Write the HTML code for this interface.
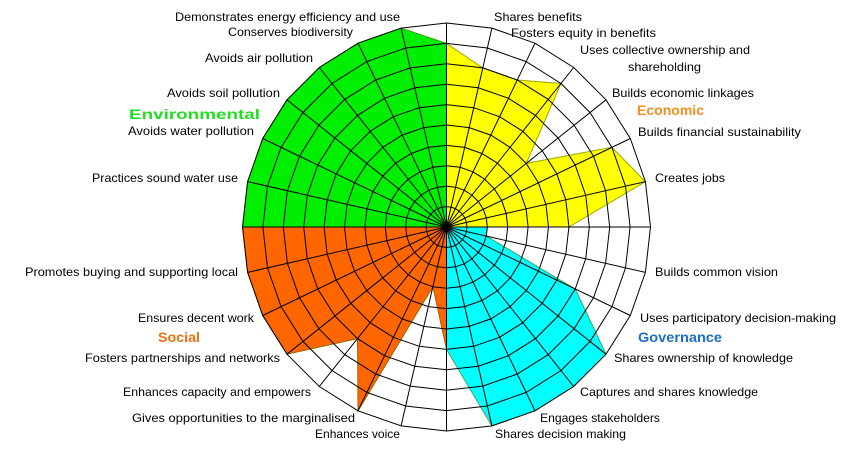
<!DOCTYPE html>
<html><head><meta charset="utf-8"><style>
html,body{margin:0;padding:0;background:#fff;}
svg{display:block;font-family:"Liberation Sans",sans-serif;}
</style></head><body>
<svg id="s" width="850" height="458" viewBox="0 0 850 458" xmlns="http://www.w3.org/2000/svg">
<g id="fills"></g><g id="grid" stroke="#000" stroke-width="1" fill="none"></g>
<g font-size="12" fill="#000">
<text x="400" y="21" text-anchor="end" textLength="225" lengthAdjust="spacingAndGlyphs">Demonstrates energy efficiency and use</text>
<text x="353" y="36" text-anchor="end" textLength="125" lengthAdjust="spacingAndGlyphs">Conserves biodiversity</text>
<text x="313" y="62" text-anchor="end" textLength="108" lengthAdjust="spacingAndGlyphs">Avoids air pollution</text>
<text x="280" y="97" text-anchor="end" textLength="113" lengthAdjust="spacingAndGlyphs">Avoids soil pollution</text>
<text x="254" y="135" text-anchor="end" textLength="126" lengthAdjust="spacingAndGlyphs">Avoids water pollution</text>
<text x="238" y="182" text-anchor="end" textLength="146" lengthAdjust="spacingAndGlyphs">Practices sound water use</text>
<text x="238" y="276" text-anchor="end" textLength="213" lengthAdjust="spacingAndGlyphs">Promotes buying and supporting local</text>
<text x="254" y="322" text-anchor="end" textLength="116" lengthAdjust="spacingAndGlyphs">Ensures decent work</text>
<text x="280" y="362" text-anchor="end" textLength="195" lengthAdjust="spacingAndGlyphs">Fosters partnerships and networks</text>
<text x="311" y="396" text-anchor="end" textLength="188" lengthAdjust="spacingAndGlyphs">Enhances capacity and empowers</text>
<text x="355" y="422" text-anchor="end" textLength="223" lengthAdjust="spacingAndGlyphs">Gives opportunities to the marginalised</text>
<text x="400" y="438" text-anchor="end" textLength="85" lengthAdjust="spacingAndGlyphs">Enhances voice</text>
<text x="494" y="21" textLength="88" lengthAdjust="spacingAndGlyphs">Shares benefits</text>
<text x="511" y="37" textLength="145" lengthAdjust="spacingAndGlyphs">Fosters equity in benefits</text>
<text x="580" y="54" textLength="170" lengthAdjust="spacingAndGlyphs">Uses collective ownership and</text>
<text x="628" y="71" textLength="73" lengthAdjust="spacingAndGlyphs">shareholding</text>
<text x="612" y="97" textLength="142" lengthAdjust="spacingAndGlyphs">Builds economic linkages</text>
<text x="638" y="136" textLength="163" lengthAdjust="spacingAndGlyphs">Builds financial sustainability</text>
<text x="655" y="182" textLength="70" lengthAdjust="spacingAndGlyphs">Creates jobs</text>
<text x="655" y="276" textLength="123" lengthAdjust="spacingAndGlyphs">Builds common vision</text>
<text x="640" y="322" textLength="196" lengthAdjust="spacingAndGlyphs">Uses participatory decision-making</text>
<text x="614" y="362" textLength="179" lengthAdjust="spacingAndGlyphs">Shares ownership of knowledge</text>
<text x="580" y="396" textLength="178" lengthAdjust="spacingAndGlyphs">Captures and shares knowledge</text>
<text x="540" y="422" textLength="120" lengthAdjust="spacingAndGlyphs">Engages stakeholders</text>
<text x="495" y="438" textLength="131" lengthAdjust="spacingAndGlyphs">Shares decision making</text>
</g>
<g font-size="14" font-weight="bold">
<text x="129" y="119" fill="#22dd22" textLength="131" lengthAdjust="spacingAndGlyphs">Environmental</text>
<text x="158" y="342" fill="#f07010" textLength="42" lengthAdjust="spacingAndGlyphs">Social</text>
<text x="637" y="115" fill="#f09020" textLength="67" lengthAdjust="spacingAndGlyphs">Economic</text>
<text x="638" y="342" fill="#1a6fc4" textLength="84" lengthAdjust="spacingAndGlyphs">Governance</text>
</g>
</svg>
<script>
var cx=446.5,cy=227,R=204,N=28,st=R/10,ns="http://www.w3.org/2000/svg";
function pt(k,v){var a=k*2*Math.PI/N,r=v*st;return (cx+r*Math.sin(a)).toFixed(1)+","+(cy-r*Math.cos(a)).toFixed(1);}
function poly(parent,pts,attrs){var p=document.createElementNS(ns,"polygon");p.setAttribute("points",pts.join(" "));for(var k in attrs)p.setAttribute(k,attrs[k]);parent.appendChild(p);}
var F=document.getElementById("fills"),G=document.getElementById("grid");
function series(list,fill,stroke){var pts=[cx+","+cy];list.forEach(function(e){pts.push(pt(e[0],e[1]));});poly(F,pts,{fill:fill,stroke:stroke,"stroke-width":1});}
series([[21,10],[22,10],[23,10],[24,10],[25,10],[26,10],[27,10],[28,9]],"#00ee00","#33aa00");
series([[0,9],[1,8],[2,8],[3,9],[4,5],[5,9],[6,10],[7,6]],"#ffff00","#99aa00");
series([[14,6],[15,3],[16,10],[17,7],[18,10],[19,10],[20,10],[21,10]],"#ff6600","#996600");
series([[7,2],[8,2],[9,7],[10,10],[11,10],[12,10],[13,10],[14,6]],"#00ffff","#33aa66");
for(var r=1;r<=10;r++){var pts=[];for(var k=0;k<N;k++)pts.push(pt(k,r));poly(G,pts,{});}
for(var k=0;k<N;k++){var l=document.createElementNS(ns,"line");var p=pt(k,10).split(",");l.setAttribute("x1",cx);l.setAttribute("y1",cy);l.setAttribute("x2",p[0]);l.setAttribute("y2",p[1]);G.appendChild(l);}
</script>
</body></html>
